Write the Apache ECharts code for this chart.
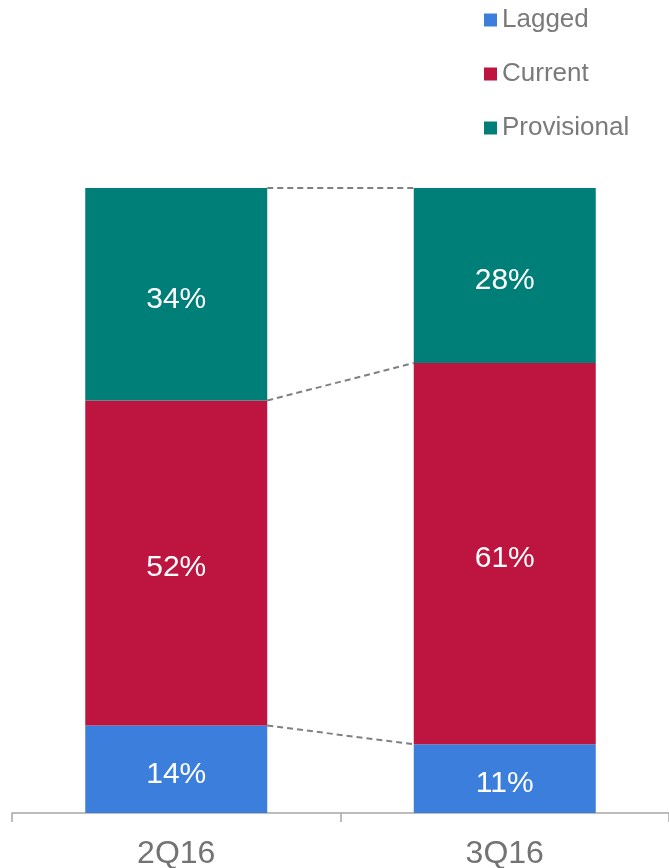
<!DOCTYPE html>
<html>
<head>
<meta charset="utf-8">
<script src="https://cdn.jsdelivr.net/npm/echarts@6/dist/echarts.min.js"></script>
<style>
  html, body { margin: 0; padding: 0; background: #ffffff; }
  #chart { width: 669px; height: 868px; }
</style>
</head>
<body>
<div id="chart"></div>
<script>
// Quarterly mix (percent of total)
const categories = ['2Q16', '3Q16'];
const seriesNames = ['Lagged', 'Current', 'Provisional'];
const lagged = [14, 11];
const current = [52, 61];
const provisional = [34, 28];

const colors = ['#3b7edb', '#be1540', '#007f79'];
const FONT = '"Liberation Sans", Arial, sans-serif';
const BAR_WIDTH = 182;

// Cumulative segment tops, used by the connector lines between the two bars
const stacks = [lagged, current, provisional];
const connectors = [];
let run0 = 0, run1 = 0;
stacks.forEach(s => {
  run0 += s[0];
  run1 += s[1];
  connectors.push([0, run0, run1]);
});

const chart = echarts.init(document.getElementById('chart'), null, { renderer: 'canvas' });

function barSeries(name, data, color) {
  return {
    name: name,
    type: 'bar',
    stack: 'mix',
    barWidth: BAR_WIDTH,
    data: data,
    itemStyle: { color: color },
    label: {
      show: true,
      position: 'inside',
      offset: [0, 5],
      formatter: p => p.value + '%',
      color: '#ffffff',
      fontFamily: FONT,
      fontSize: 30
    },
    emphasis: { disabled: true }
  };
}

chart.setOption({
  animation: false,
  color: colors,
  textStyle: { fontFamily: FONT },
  legend: {
    data: seriesNames,
    orient: 'vertical',
    left: 484,
    top: 6,
    padding: 0,
    icon: 'rect',
    itemWidth: 13,
    itemHeight: 13,
    itemGap: 26,
    textStyle: { color: '#7a7a7a', fontSize: 26, fontFamily: FONT, lineHeight: 28 }
  },
  grid: { left: 12, right: 0, top: 188, bottom: 55, outerBoundsMode: 'none', containLabel: false },
  xAxis: {
    type: 'category',
    data: categories,
    axisLine: { lineStyle: { color: '#a6a6a6', width: 1.5 } },
    axisTick: { show: true, length: 9, lineStyle: { color: '#a6a6a6', width: 1.5 } },
    axisLabel: { color: '#737373', fontSize: 32, fontFamily: FONT, margin: 25 }
  },
  yAxis: {
    type: 'value',
    min: 0,
    max: 100,
    show: false,
    splitLine: { show: false }
  },
  series: [
    barSeries(seriesNames[0], lagged, colors[0]),
    barSeries(seriesNames[1], current, colors[1]),
    barSeries(seriesNames[2], provisional, colors[2]),
    {
      type: 'custom',
      name: 'connectors',
      data: connectors,
      encode: { x: 0, y: 1 },
      z: 1,
      silent: true,
      renderItem: function (params, api) {
        const p0 = api.coord([0, api.value(1)]);
        const p1 = api.coord([1, api.value(2)]);
        const half = BAR_WIDTH / 2;
        return {
          type: 'line',
          shape: { x1: p0[0] + half, y1: p0[1], x2: p1[0] - half, y2: p1[1] },
          style: { stroke: '#808080', lineWidth: 2, lineDash: [6, 4] }
        };
      }
    }
  ]
});
</script>
</body>
</html>
